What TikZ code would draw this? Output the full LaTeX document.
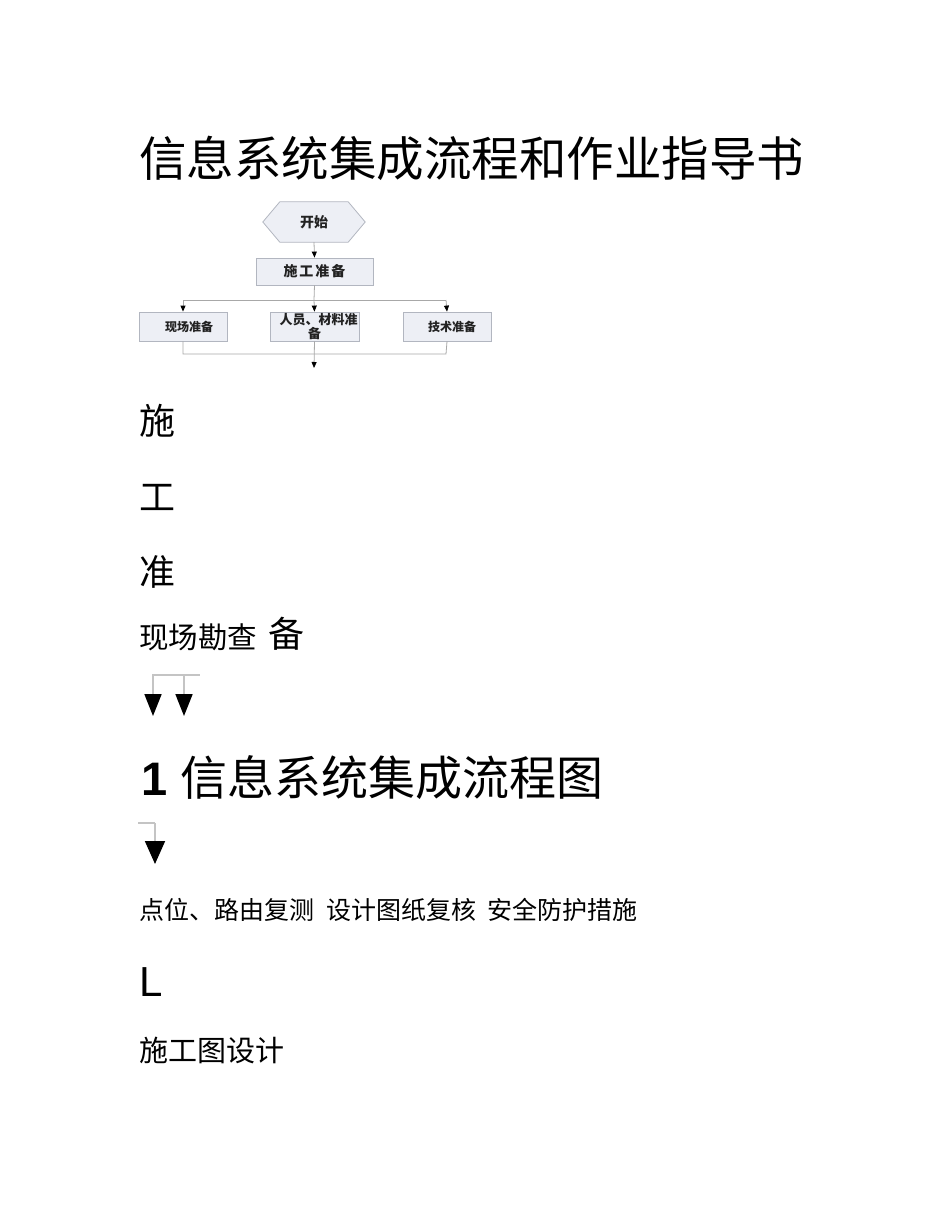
\documentclass[tikz,border=0pt]{standalone}
\usepackage{fontspec}
\newfontfamily\cjk{Noto Sans CJK SC}
\newfontfamily\arialf{Liberation Sans}
\usetikzlibrary{arrows.meta,backgrounds}
\definecolor{boxfill}{HTML}{EDEFF5}
\definecolor{boxline}{HTML}{B2B6C0}
\definecolor{flowline}{HTML}{A8A8A8}
\definecolor{fragline}{HTML}{C4C4C4}
\definecolor{flowtext}{HTML}{222222}
\tikzset{
  flowbox/.style={draw=boxline, fill=boxfill, line width=0.8pt, inner sep=0pt, align=center, text=flowtext, font=\cjk\bfseries\fontsize{12}{12}\selectfont},
  hexnode/.style={inner sep=0pt, minimum width=102pt, minimum height=40pt, text=flowtext, font=\cjk\bfseries\fontsize{14}{14}\selectfont},
  flowarrow/.style={draw=flowline, line width=0.8pt, -{Triangle[width=5pt,length=6pt,color=black]}},
  flowplain/.style={draw=flowline, line width=0.8pt},
  fragplain/.style={draw=fragline, line width=1.8pt},
  fragarrow/.style={draw=fragline, line width=1.8pt, -{Triangle[width=17pt,length=22pt,color=black]}},
  bodytext/.style={anchor=west, inner sep=0pt, text=black},
}
\begin{document}
\begin{tikzpicture}[x=1pt,y=-1pt]
\useasboundingbox (0,0) rectangle (950,1230);

% title
\node[bodytext, font=\cjk\fontsize{47.5}{47.5}\selectfont] (title) at (139,158) {信息系统集成流程和作业指导书};

% flowchart
\node[hexnode] (start) at (314,222) {开始};
\begin{scope}[on background layer]
\filldraw[draw=boxline, fill=boxfill, line width=0.8pt]
  (start.west) -- ([xshift=17pt]start.north west) -- ([xshift=-17pt]start.north east)
  -- (start.east) -- ([xshift=-17pt]start.south east) -- ([xshift=17pt]start.south west) -- cycle;
\end{scope}
\node[flowbox, minimum width=117pt, minimum height=27pt, font=\cjk\bfseries\fontsize{14}{14}\selectfont] (prep) at (314.5,271.5) {施\hspace{2pt}工\hspace{2pt}准\hspace{2pt}备};
\node[flowbox, minimum width=88pt, minimum height=29pt] (site) at (183,326.5) {\hspace*{12pt}现场准备};
\node[flowbox, minimum width=89pt, minimum height=29pt, font=\cjk\bfseries\fontsize{13}{12}\selectfont] (staff) at (314.5,326.5) {\hspace*{8pt}人员、材料准\\ 备};
\node[flowbox, minimum width=88pt, minimum height=29pt] (tech) at (447,326.5) {\hspace*{10pt}技术准备};

\coordinate (split) at (314,300);
\coordinate (splitL) at (183,300);
\coordinate (splitR) at (446,300);
\coordinate (joinL) at (183,354);
\coordinate (joinR) at (446,354);
\coordinate (outend) at (314,368);

\draw[flowarrow] (start.south) -- (prep.north);
\draw[flowplain] (prep.south) -- (split);
\draw[flowplain] (splitL) -- (splitR);
\draw[flowarrow] (splitL) -- (site.north);
\draw[flowarrow] (split) -- (staff.north);
\draw[flowarrow] (splitR) -- (tech.north);
\draw[flowplain] (site.south) -- (joinL) -- (joinR) -- (tech.south);
\draw[flowarrow] (staff.south) -- (outend);

% body text
\node[bodytext, font=\cjk\fontsize{36}{36}\selectfont] (t1) at (139,421) {施};
\node[bodytext, font=\cjk\fontsize{36}{36}\selectfont] (t2) at (139,497) {工};
\node[bodytext, font=\cjk\fontsize{36}{36}\selectfont] (t3) at (139,572) {准};
\node[bodytext, font=\cjk\fontsize{29.5}{29.5}\selectfont] (t4) at (139,637) {现场勘查};
\node[bodytext, font=\cjk\fontsize{36}{36}\selectfont] (t5) at (268,634) {备};

% fragment arrows 1
\coordinate (f1a) at (152,675);
\coordinate (f1b) at (200,675);
\coordinate (f1c) at (153,675);
\coordinate (f1d) at (153,716);
\coordinate (f1e) at (184,675);
\coordinate (f1f) at (184,716);
\draw[fragplain] (f1a) -- (f1b);
\draw[fragarrow] (f1c) -- (f1d);
\draw[fragarrow] (f1e) -- (f1f);

% section heading
\node[bodytext, font=\cjk\fontsize{47}{47}\selectfont] (head) at (141,778) {{\arialf\bfseries 1}\hspace{13pt}信息系统集成流程图};

% fragment arrow 2
\coordinate (f2a) at (138,823);
\coordinate (f2b) at (155,823);
\coordinate (f2c) at (155,864);
\draw[fragline, line width=1.8pt] (f2a) -- (f2b);
\draw[fragline, line width=1.8pt, -{Triangle[width=20pt,length=23pt,color=black]}] (f2b) -- (f2c);

\node[bodytext, font=\cjk\fontsize{25}{25}\selectfont] (t6) at (139,910) {点位、路由复测\hspace{12pt}设计图纸复核\hspace{11pt}安全防护措施};
\node[bodytext, font=\arialf\fontsize{42}{42}\selectfont] (t7) at (139,982) {L};
\node[bodytext, font=\cjk\fontsize{29}{29}\selectfont] (t8) at (139,1050) {施工图设计};
\end{tikzpicture}
\end{document}
